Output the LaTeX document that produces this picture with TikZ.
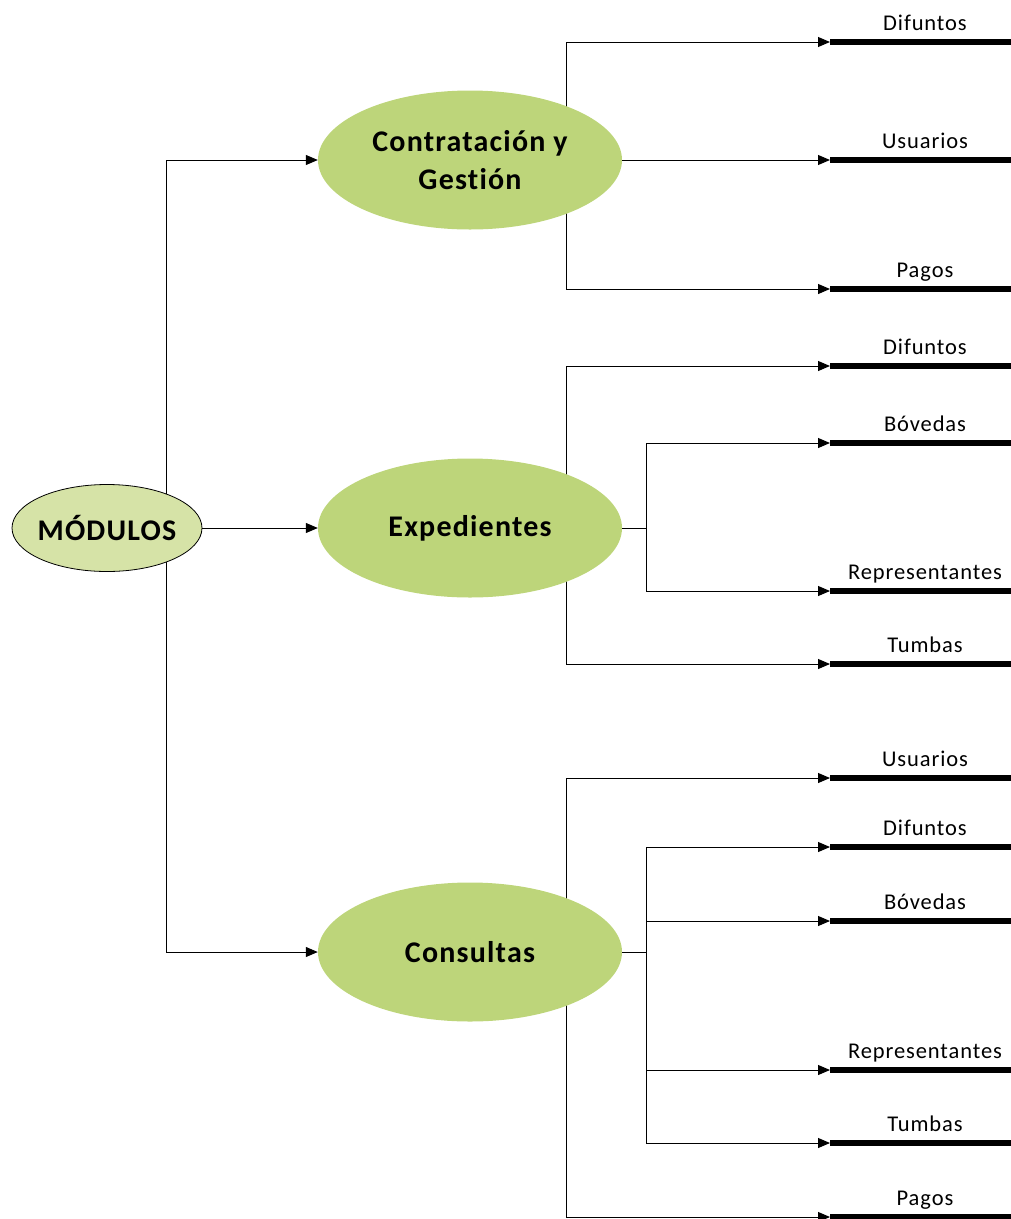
\documentclass[tikz,border=0pt]{standalone}
\usepackage{fontspec}
\setmainfont{Carlito}[LetterSpace=4,Ligatures={NoCommon}]
\usetikzlibrary{arrows.meta,shapes.geometric,backgrounds}

\definecolor{modfill}{RGB}{214,227,167}
\definecolor{bigfill}{RGB}{189,213,122}

\begin{document}
\begin{tikzpicture}[x=1pt,y=-1pt,
  link/.style={line width=1pt, draw=black},
  arrowlink/.style={link, -{Triangle[length=12pt,width=10pt]}},
  bar/.style={line width=6pt, draw=black},
  rootnode/.style={ellipse, draw=black, line width=0.8pt, fill=modfill,
    minimum width=190pt, minimum height=87pt, inner sep=0pt,
    font=\fontsize{30}{34}\selectfont\bfseries},
  module/.style={ellipse, fill=bigfill, minimum width=304pt, minimum height=139pt,
    inner sep=0pt, align=center, font=\fontsize{30}{38}\selectfont\bfseries},
  leaflabel/.style={anchor=base, inner sep=0pt, font=\fontsize{22.5}{26}\selectfont}
]
\useasboundingbox (0,0) rectangle (1011,1219);

% main nodes (root text kept in a fixed box so the ellipse keeps its size)
\node[rootnode] (mod) at (107,528) {\makebox[100pt]{MÓDULOS}};
\node[module] (cg) at (470,160) {Contratación y\\Gestión};
\node[module] (ex) at (470,528) {Expedientes};
\node[module] (co) at (470,952) {Consultas};

% branching points
\coordinate (modtrunk) at (166,528);
\coordinate (cgtrunk) at (566,160);
\coordinate (extrunk) at (566,528);
\coordinate (exfork) at (646,528);
\coordinate (cotrunk) at (566,952);
\coordinate (cofork) at (646,952);

% leaves: name / y / label
\foreach \nm/\yy/\txt in {
  c1/42/Difuntos, c2/160/Usuarios, c3/289/Pagos,
  e1/366/Difuntos, e2/443/Bóvedas, e3/591/Representantes, e4/664/Tumbas,
  k1/778/Usuarios, k2/847/Difuntos, k3/921/Bóvedas, k4/1070/Representantes,
  k5/1143/Tumbas, k6/1217/Pagos}{
  \coordinate (\nm) at (830,\yy);
  \coordinate (\nm end) at (1011,\yy);
  \draw[bar] (\nm) -- (\nm end);
  \node[leaflabel] (\nm label) at (925,\yy-12) {\txt};
}

\begin{scope}[on background layer]
  % root to modules
  \draw[arrowlink] (modtrunk) |- (cg.west);
  \draw[arrowlink] (mod.east) -- (ex.west);
  \draw[arrowlink] (modtrunk) |- (co.west);

  % Contratación y Gestión
  \draw[arrowlink] (cgtrunk) |- (c1);
  \draw[arrowlink] (cg.east) -- (c2);
  \draw[arrowlink] (cgtrunk) |- (c3);

  % Expedientes
  \draw[arrowlink] (extrunk) |- (e1);
  \draw[arrowlink] (extrunk) |- (e4);
  \draw[link] (ex.east) -- (exfork);
  \draw[arrowlink] (exfork) |- (e2);
  \draw[arrowlink] (exfork) |- (e3);

  % Consultas
  \draw[arrowlink] (cotrunk) |- (k1);
  \draw[arrowlink] (cotrunk) |- (k6);
  \draw[link] (co.east) -- (cofork);
  \draw[arrowlink] (cofork) |- (k2);
  \draw[arrowlink] (cofork) |- (k3);
  \draw[arrowlink] (cofork) |- (k4);
  \draw[arrowlink] (cofork) |- (k5);
\end{scope}
\end{tikzpicture}
\end{document}
